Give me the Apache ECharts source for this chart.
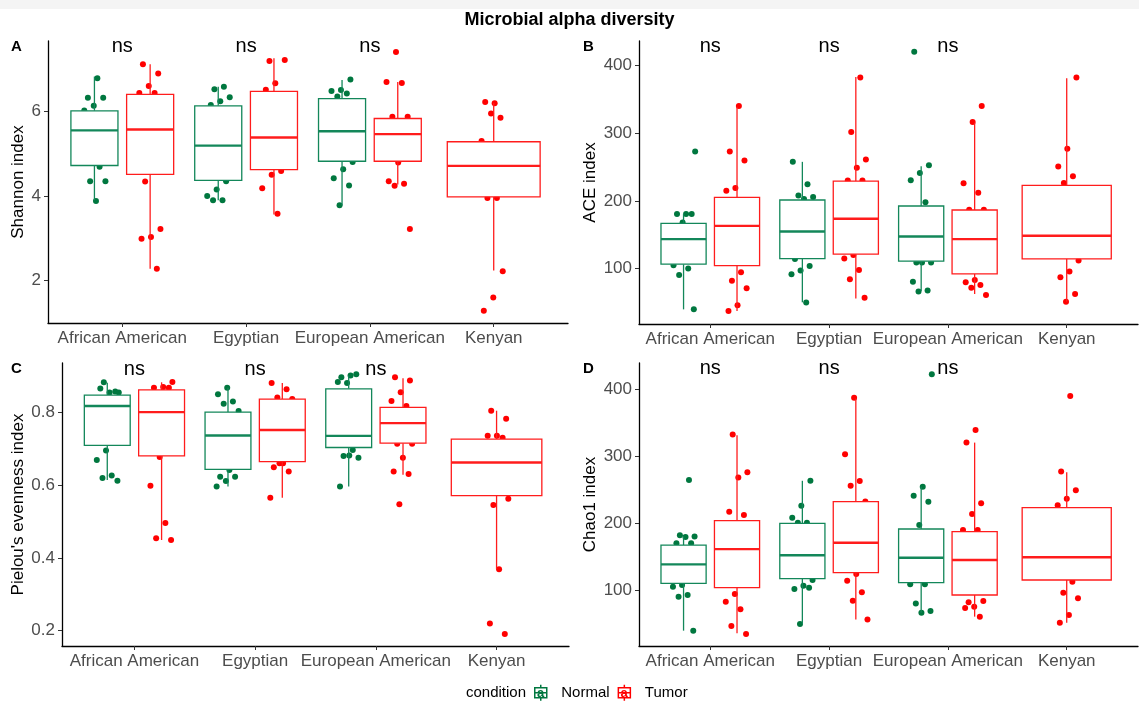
<!DOCTYPE html>
<html>
<head>
<meta charset="utf-8">
<title>Microbial alpha diversity</title>
<script src="https://cdn.jsdelivr.net/npm/echarts@6/dist/echarts.min.js"></script>
<style>
  html, body { margin: 0; padding: 0; background: #fff; }
  #main { width: 1139px; height: 704px; }
</style>
</head>
<body>
<div id="main"></div>
<script>
const categories = ['African American', 'Egyptian', 'European American', 'Kenyan']
const conditions = ['Normal', 'Tumor']

// box stats per category: [lower whisker, Q1, median, Q3, upper whisker], null = no samples
const shannonBoxNormal = [[3.90, 4.72, 5.55, 6.01, 6.82], [3.90, 4.37, 5.19, 6.13, 6.58], [3.78, 4.82, 5.53, 6.30, 6.74], null]
const shannonBoxTumor = [[2.28, 4.51, 5.57, 6.40, 7.11], [3.56, 4.62, 5.38, 6.47, 7.25], [4.27, 4.82, 5.46, 5.83, 6.69], [2.24, 3.98, 4.71, 5.28, 6.20]]
const shannonPtsNormal = [
  [6.78, 6.32, 6.32, 6.13, 6.02, 4.69, 4.35, 4.35, 3.88],
  [6.58, 6.52, 6.33, 6.24, 6.15, 4.35, 4.15, 4.00, 3.90, 3.90],
  [6.75, 6.50, 6.48, 6.42, 6.35, 4.80, 4.63, 4.42, 4.25, 3.78],
  []
]
const shannonPtsTumor = [
  [7.11, 6.89, 6.60, 6.43, 6.43, 4.34, 3.22, 3.03, 2.99, 2.28],
  [7.19, 7.21, 6.66, 6.51, 4.59, 4.50, 4.18, 3.58],
  [7.40, 6.69, 6.67, 5.87, 5.87, 4.79, 4.35, 4.29, 4.24, 3.22],
  [6.19, 6.22, 5.85, 5.95, 5.30, 3.95, 3.95, 2.22, 1.60, 1.29]
]

const aceBoxNormal = [[39.8, 106.5, 143.5, 166.7, 180.6], [50.2, 114.8, 154.8, 201.3, 257.6], [67, 111, 147.4, 192.4, 251], null]
const aceBoxTumor = [[37.3, 104.4, 163, 205, 339], [56, 121.3, 173.6, 229, 383], [62.5, 92.1, 143.5, 186.5, 315.4], [51, 114.4, 148.4, 223, 381]]
const acePtsNormal = [
  [273, 180.6, 180.6, 180.6, 168, 105, 100, 90.7, 39.8],
  [257.6, 224.4, 208, 205.6, 202.8, 114, 104, 97, 91.7, 50],
  [420, 252.6, 241.3, 230.4, 197.8, 108.9, 108.9, 108.9, 80.7, 67.5, 66],
  []
]
const acePtsTumor = [
  [340, 273, 259.6, 219, 215, 94.7, 82.2, 71, 45.8, 37.3],
  [382, 301.5, 261, 248.7, 230, 230, 120, 114.8, 98, 84.3, 57],
  [340, 316.3, 226, 212, 187, 187, 83.3, 80, 75.6, 71.9, 61],
  [382, 277, 250.7, 236.3, 226.5, 111.9, 95.6, 87.3, 62.5, 51]
]

const pielouBoxNormal = [[0.614, 0.709, 0.817, 0.847, 0.881], [0.596, 0.643, 0.736, 0.800, 0.867], [0.596, 0.703, 0.735, 0.864, 0.901], null]
const pielouBoxTumor = [[0.449, 0.680, 0.800, 0.861, 0.882], [0.565, 0.664, 0.751, 0.836, 0.880], [0.628, 0.715, 0.770, 0.813, 0.893], [0.369, 0.571, 0.662, 0.726, 0.804]]
const pielouPtsNormal = [
  [0.882, 0.854, 0.854, 0.865, 0.857, 0.695, 0.669, 0.626, 0.619, 0.612],
  [0.867, 0.849, 0.829, 0.823, 0.803, 0.641, 0.623, 0.623, 0.611, 0.596],
  [0.901, 0.896, 0.904, 0.880, 0.883, 0.696, 0.680, 0.675, 0.681, 0.596],
  []
]
const pielouPtsTumor = [
  [0.883, 0.869, 0.867, 0.867, 0.677, 0.598, 0.496, 0.454, 0.449],
  [0.880, 0.863, 0.840, 0.836, 0.660, 0.649, 0.637, 0.660, 0.565],
  [0.896, 0.887, 0.855, 0.831, 0.817, 0.713, 0.713, 0.675, 0.637, 0.630, 0.547],
  [0.804, 0.782, 0.735, 0.735, 0.730, 0.545, 0.562, 0.369, 0.220, 0.191]
]

const chaoBoxNormal = [[39.3, 110, 138.3, 167, 180], [49.3, 117, 151.8, 199.5, 263], [66, 111, 148.2, 191, 254], null]
const chaoBoxTumor = [[35.4, 103.5, 161, 203.5, 331], [56, 125.9, 170.6, 231.8, 386], [60.2, 92.5, 144.8, 187, 320], [51.2, 114.9, 148.8, 222.9, 275.6]]
const chaoPtsNormal = [
  [264, 181.6, 180, 179, 169.7, 169.7, 107.5, 105, 92.5, 90, 39],
  [263, 225.8, 208, 200.3, 200.3, 115, 106.4, 101.5, 103.5, 49.3],
  [422, 254, 240.8, 231.8, 197, 108.5, 108.5, 80, 68.7, 66],
  []
]
const chaoPtsTumor = [
  [332, 275.6, 268, 216.9, 212, 94, 82.6, 71.2, 46.3, 34.3],
  [387, 302.5, 262.7, 255.7, 232, 124, 113.9, 96.5, 84, 56],
  [338.8, 320, 229.4, 213.4, 189.6, 189.6, 81.6, 83.6, 75, 73, 60],
  [389.6, 277, 249, 236.3, 226.4, 112.4, 96, 87.6, 62.7, 51]
]

// tick labels
const shannonTicks = [2, 4, 6]
const aceTicks = [100, 200, 300, 400]
const pielouTicks = [0.2, 0.4, 0.6, 0.8]
const chaoTicks = [100, 200, 300, 400]

// "ns" label height per panel (A, B, C, D) and the categories it sits over
const nsLevels = [7.54, 428.6, 0.918, 429.9]
const nsCategories = [0, 1, 2]
const nsText = 'ns'

const dotColor = { Normal: '#00773f', Tumor: '#ff0000' }
const lineColor = { Normal: '#13875a', Tumor: '#ff1c1c' }
const FONT = '"Liberation Sans", Arial, sans-serif'

const panels = [
  { letter: 'A', yName: 'Shannon index', boxes: [shannonBoxNormal, shannonBoxTumor], pts: [shannonPtsNormal, shannonPtsTumor],
    ticks: shannonTicks, min: 1.0, max: 7.66, grid: { left: 48, top: 41, right: 571, bottom: 381 }, nameGap: 21, letterPos: [11, 39] },
  { letter: 'B', yName: 'ACE index', boxes: [aceBoxNormal, aceBoxTumor], pts: [acePtsNormal, acePtsTumor],
    ticks: aceTicks, min: 18.2, max: 436, grid: { left: 639, top: 41, right: 1, bottom: 380 }, nameGap: 40, letterPos: [583, 39] },
  { letter: 'C', yName: "Pielou's evenness index", boxes: [pielouBoxNormal, pielouBoxTumor], pts: [pielouPtsNormal, pielouPtsTumor],
    ticks: pielouTicks, min: 0.158, max: 0.935, grid: { left: 62, top: 363, right: 570, bottom: 58 }, nameGap: 35, letterPos: [11, 361] },
  { letter: 'D', yName: 'Chao1 index', boxes: [chaoBoxNormal, chaoBoxTumor], pts: [chaoPtsNormal, chaoPtsTumor],
    ticks: chaoTicks, min: 16.4, max: 438.8, grid: { left: 639, top: 363, right: 1, bottom: 58 }, nameGap: 40, letterPos: [583, 361] }
]

// deterministic horizontal spread, like geom_jitter
function jitter(j, k) {
  return ((((j + 1) * 0.6180339 + k * 0.37) % 1) - 0.5) * 0.2
}

function boxRenderer(color) {
  return function (params, api) {
    const x = api.value(0)
    const hw = api.value(6)
    const hi = api.coord([x, api.value(5)])
    const q3 = api.coord([x, api.value(4)])
    const med = api.coord([x, api.value(3)])
    const q1 = api.coord([x, api.value(2)])
    const lo = api.coord([x, api.value(1)])
    const l = api.coord([x - hw, 0])[0]
    const r = api.coord([x + hw, 0])[0]
    const thin = { stroke: color, lineWidth: 1.3 }
    return {
      type: 'group',
      children: [
        { type: 'line', shape: { x1: hi[0], y1: hi[1], x2: q3[0], y2: q3[1] }, style: thin },
        { type: 'line', shape: { x1: q1[0], y1: q1[1], x2: lo[0], y2: lo[1] }, style: thin },
        { type: 'rect', shape: { x: l, y: q3[1], width: r - l, height: q1[1] - q3[1] }, style: { fill: '#fff', stroke: color, lineWidth: 1.3 } },
        { type: 'line', shape: { x1: l, y1: med[1], x2: r, y2: med[1] }, style: { stroke: color, lineWidth: 2.4 } }
      ]
    }
  }
}

const grids = [], xAxes = [], yAxes = [], series = []
const titles = [{
  text: 'Microbial alpha diversity', left: 'center', top: 11, padding: 0,
  textStyle: { fontSize: 18, fontWeight: 'bold', color: '#000', fontFamily: FONT }
}]

panels.forEach((p, pi) => {
  grids.push(Object.assign({ containLabel: false }, p.grid))
  titles.push({ text: p.letter, left: p.letterPos[0], top: p.letterPos[1], padding: 0,
    textStyle: { fontSize: 15, fontWeight: 'bold', color: '#000', fontFamily: FONT } })
  xAxes.push({
    type: 'value', gridIndex: pi, min: -0.6, max: 3.6,
    axisLine: { show: true, onZero: false, lineStyle: { color: '#000', width: 1.3 } },
    axisTick: { show: true, customValues: [0, 1, 2, 3], length: 4, lineStyle: { color: '#333' } },
    axisLabel: { customValues: [0, 1, 2, 3], formatter: v => categories[Math.round(v)], fontSize: 17, color: '#4d4d4d', margin: 7, fontFamily: FONT },
    splitLine: { show: false }
  })
  yAxes.push({
    type: 'value', gridIndex: pi, min: p.min, max: p.max,
    name: p.yName, nameLocation: 'middle', nameGap: p.nameGap, nameRotate: 90,
    nameTextStyle: { fontSize: 17, color: '#000', fontFamily: FONT },
    axisLine: { show: true, onZero: false, lineStyle: { color: '#000', width: 1.3 } },
    axisTick: { show: true, customValues: p.ticks, length: 4, lineStyle: { color: '#333' } },
    axisLabel: { customValues: p.ticks, fontSize: 17, color: '#4d4d4d', margin: 7, fontFamily: FONT },
    splitLine: { show: false }
  })

  conditions.forEach((cond, c) => {
    const dots = [], boxes = []
    categories.forEach((cat, ci) => {
      const st = p.boxes[c][ci]
      if (!st) return
      const paired = p.boxes[1 - c][ci] != null
      const x = ci + (paired ? (c === 0 ? -0.225 : 0.225) : 0)
      const hw = paired ? 0.19 : 0.375
      boxes.push([x].concat(st, [hw]))
      p.pts[c][ci].forEach((v, j) => dots.push([x + jitter(j, ci * 3 + c * 7 + pi), v]))
    })
    series.push({
      type: 'scatter', name: cond, xAxisIndex: pi, yAxisIndex: pi, data: dots,
      symbolSize: 6, itemStyle: { color: dotColor[cond], opacity: 1 }, z: 2, silent: true
    })
    series.push({
      type: 'custom', name: cond, xAxisIndex: pi, yAxisIndex: pi, data: boxes,
      itemStyle: { color: dotColor[cond] }, renderItem: boxRenderer(lineColor[cond]), z: 3, silent: true
    })
  })

  series.push({
    type: 'custom', xAxisIndex: pi, yAxisIndex: pi, z: 4, silent: true,
    data: nsCategories.map(ci => [ci, nsLevels[pi]]),
    renderItem: (params, api) => {
      const pt = api.coord([api.value(0), api.value(1)])
      return { type: 'text', x: pt[0], y: pt[1],
        style: { text: nsText, fill: '#000', fontSize: 20, fontFamily: FONT, align: 'center', verticalAlign: 'middle' } }
    }
  })
})

titles.push({ text: 'condition', left: 466, top: 685, padding: 0,
  textStyle: { fontSize: 15, fontWeight: 'normal', color: '#000', fontFamily: FONT } })

const keyIcon = 'path://M6.5,0 L6.5,3 M0.5,3 L12.5,3 L12.5,13 L0.5,13 Z M0.5,8 L12.5,8 M6.5,13 L6.5,16'

const chart = echarts.init(document.getElementById('main'))
chart.setOption({
  animation: false,
  backgroundColor: '#fff',
  textStyle: { fontFamily: FONT },
  title: titles,
  grid: grids,
  xAxis: xAxes,
  yAxis: yAxes,
  legend: {
    left: 534, top: 684, padding: 0, itemGap: 8, itemWidth: 13, itemHeight: 16,
    selectedMode: false,
    textStyle: { fontSize: 15, color: '#000', padding: [0, 0, 0, 9], fontFamily: FONT },
    data: conditions.map(cond => ({
      name: cond, icon: keyIcon,
      itemStyle: { color: '#fff', borderColor: dotColor[cond], borderWidth: 1.5 }
    }))
  },
  graphic: [
    { type: 'rect', left: 0, top: 0, shape: { width: 1139, height: 9 }, style: { fill: '#f4f4f4' }, silent: true },
    // the "a" text glyph drawn inside each legend key, as ggplot does
    { type: 'text', x: 540.5, y: 693, silent: true, z: 100,
      style: { text: 'a', fill: dotColor.Normal, fontSize: 13, fontWeight: 'bold', fontFamily: FONT, align: 'center', verticalAlign: 'middle' } },
    { type: 'text', x: 624, y: 693, silent: true, z: 100,
      style: { text: 'a', fill: dotColor.Tumor, fontSize: 13, fontWeight: 'bold', fontFamily: FONT, align: 'center', verticalAlign: 'middle' } }
  ],
  series: series
})
</script>
</body>
</html>
